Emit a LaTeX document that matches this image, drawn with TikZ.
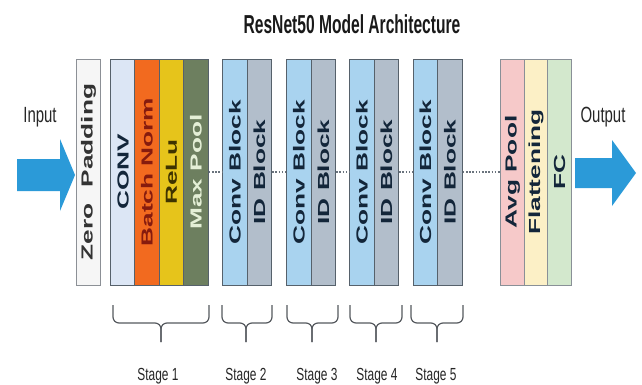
\documentclass[tikz,border=0pt]{standalone}
\usepackage{fontspec}
\setmainfont{Liberation Sans}
\newfontfamily\widefont[FakeStretch=1.64]{Liberation Sans}
\newfontfamily\narrowfont[FakeStretch=0.68]{Liberation Sans}
\newfontfamily\titlefont[FakeStretch=0.6]{Liberation Sans}
\usepackage{tikz}
\usetikzlibrary{positioning}

\definecolor{edge}{HTML}{56616B}
\definecolor{zpfill}{HTML}{F6F6F6}
\definecolor{zpedge}{HTML}{8C9096}
\definecolor{convfill}{HTML}{DCE6F5}
\definecolor{bnfill}{HTML}{F26A1F}
\definecolor{bntext}{HTML}{861B0E}
\definecolor{relufill}{HTML}{E6C41B}
\definecolor{relutext}{HTML}{3E3300}
\definecolor{poolfill}{HTML}{6D7F5F}
\definecolor{pooltext}{HTML}{E4EFD6}
\definecolor{cbfill}{HTML}{A9D3EF}
\definecolor{idfill}{HTML}{B2BECB}
\definecolor{blocktext}{HTML}{13263A}
\definecolor{avgfill}{HTML}{F6C9C9}
\definecolor{flatfill}{HTML}{FCF0C6}
\definecolor{fcfill}{HTML}{D3E8CD}
\definecolor{arrowblue}{HTML}{2B9AD8}
\definecolor{dotgray}{HTML}{6A737D}
\definecolor{bracegray}{HTML}{55595E}

\begin{document}
\begin{tikzpicture}[x=1pt, y=-1pt,
  layer/.style={draw=edge, line width=0.9pt, rotate=90, minimum width=226pt,
    minimum height=24.5pt, inner sep=0pt, text=blocktext,
    font={\widefont\fontsize{16}{16}\selectfont\bfseries}},
  dots/.style={draw=dotgray, line width=1.3pt, dash pattern=on 1.6pt off 1.6pt},
  brace/.style={draw=bracegray, line width=1.2pt, rounded corners=6pt},
  caption/.style={anchor=base, inner sep=0pt, text=black!85,
    font={\narrowfont\fontsize{17.5}{17.5}\selectfont}},
  io/.style={anchor=base, inner sep=0pt, text=black!85,
    font={\narrowfont\fontsize{22}{22}\selectfont}}]

 \useasboundingbox (0,0) rectangle (642,385);

 \node[anchor=base, inner sep=0pt, text=black!90,
   font={\titlefont\fontsize{26}{26}\selectfont\bfseries}] (title) at (352,34)
     {ResNet50 Model Architecture};

 % input side
 \node[io] (input) at (40,122) {Input};
 \fill[arrowblue] (17,159) -- (60,159) -- (60,139) -- (75,175)
   -- (60,211) -- (60,191) -- (17,191) -- cycle;

 \node[layer, fill=zpfill, draw=zpedge, text=black!80] (zeropad) at (88.5,172)
     {Zero\hspace{16pt}Padding};

 % stage 1
 \node[layer, fill=convfill] (conv) at (123,172) {CONV};
 \node[layer, fill=bnfill, text=bntext] (batchnorm) at (147,172) {Batch Norm};
 \node[layer, fill=relufill, text=relutext] (relu) at (171.5,172) {ReLu};
 \node[layer, fill=poolfill, text=pooltext] (maxpool) at (196,172) {Max Pool};

 % stages 2 to 5
 \node[layer, fill=cbfill] (convblock2) at (235,172) {Conv Block};
 \node[layer, fill=idfill] (idblock2) at (259.5,172) {ID Block};

 \node[layer, fill=cbfill] (convblock3) at (299,172) {Conv Block};
 \node[layer, fill=idfill] (idblock3) at (323.5,172) {ID Block};

 \node[layer, fill=cbfill] (convblock4) at (362,172) {Conv Block};
 \node[layer, fill=idfill] (idblock4) at (386.5,172) {ID Block};

 \node[layer, fill=cbfill] (convblock5) at (425.5,172) {Conv Block};
 \node[layer, fill=idfill] (idblock5) at (450,172) {ID Block};

 % head
 \node[layer, fill=avgfill, draw=edge!70, minimum height=23.5pt] (avgpool) at (512.5,172) {Avg Pool};
 \node[layer, fill=flatfill, draw=edge!70, minimum height=23.5pt] (flatten) at (536,172) {Flattening};
 \node[layer, fill=fcfill, draw=edge!70, minimum height=23.5pt] (fc) at (559.5,172) {FC};

 % output side
 \node[io] (output) at (603,122) {Output};
 \fill[arrowblue] (575,158) -- (612,158) -- (612,140) -- (636,173)
   -- (612,206) -- (612,188) -- (575,188) -- cycle;

 \draw [dots] (maxpool) -- (convblock2);
 \draw [dots] (idblock2) -- (convblock3);
 \draw [dots] (idblock3) -- (convblock4);
 \draw [dots] (idblock4) -- (convblock5);
 \draw [dots] (idblock5) -- (avgpool);

 % braces
 \draw [brace] (113,305) -- (113,323) -- (161,323) -- (161,342);
 \draw [brace] (209,305) -- (209,323) -- (161,323) -- (161,342);
 \draw [brace] (222,305) -- (222,323) -- (246,323) -- (246,342);
 \draw [brace] (272,305) -- (272,323) -- (246,323) -- (246,342);
 \draw [brace] (287,305) -- (287,323) -- (312,323) -- (312,342);
 \draw [brace] (338,305) -- (338,323) -- (312,323) -- (312,342);
 \draw [brace] (350,305) -- (350,323) -- (376,323) -- (376,342);
 \draw [brace] (402,305) -- (402,323) -- (376,323) -- (376,342);
 \draw [brace] (411,305) -- (411,323) -- (437,323) -- (437,342);
 \draw [brace] (463,305) -- (463,323) -- (437,323) -- (437,342);

 \node[caption] (stage1) at (158,380) {Stage 1};
 \node[caption] (stage2) at (246,380) {Stage 2};
 \node[caption] (stage3) at (317,380) {Stage 3};
 \node[caption] (stage4) at (377,380) {Stage 4};
 \node[caption] (stage5) at (436,380) {Stage 5};

\end{tikzpicture}
\end{document}
